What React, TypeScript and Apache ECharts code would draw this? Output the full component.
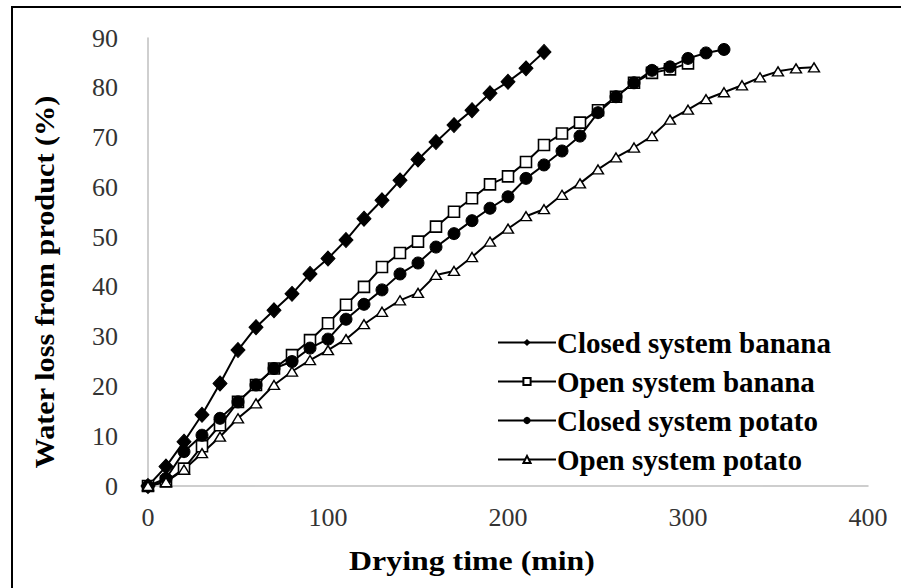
import React, { useEffect, useRef } from "react";
import * as echarts from "echarts";

// Drying time (min) shared by all series
const dryingTime = [0, 10, 20, 30, 40, 50, 60, 70, 80, 90, 100, 110, 120, 130, 140, 150, 160, 170, 180, 190, 200, 210, 220, 230, 240, 250, 260, 270, 280, 290, 300, 310, 320, 330, 340, 350, 360, 370];

const closedBanana = [0, 3.9, 8.9, 14.3, 20.6, 27.3, 31.9, 35.3, 38.6, 42.6, 45.7, 49.4, 53.7, 57.4, 61.4, 65.6, 69.1, 72.5, 75.5, 78.9, 81.2, 83.9, 87.2];
const openBanana = [0, 0.9, 3.5, 8, 12.2, 16.9, 20.3, 23.6, 26.3, 29.3, 32.7, 36.4, 40, 44, 46.8, 49.1, 52.1, 55.1, 57.8, 60.6, 62.2, 65.1, 68.5, 70.8, 73, 75.5, 78.2, 81, 83, 83.7, 84.9];
const closedPotato = [0, 1.5, 6.9, 10.2, 13.6, 16.9, 20.3, 23.6, 25, 27.7, 29.5, 33.5, 36.5, 39.4, 42.6, 44.8, 48, 50.7, 53.3, 55.8, 58.1, 61.8, 64.5, 67.3, 70.3, 75, 78.2, 81, 83.5, 84.2, 85.9, 87, 87.7];
const openPotato = [0, 0.8, 3.3, 6.6, 9.9, 13.6, 16.6, 20.3, 23, 25.3, 27.3, 29.5, 32.5, 35, 37.3, 38.8, 42.4, 43.2, 46, 49.1, 51.7, 54.2, 55.6, 58.5, 60.8, 63.6, 66, 68, 70.3, 73.6, 75.6, 77.7, 79.1, 80.5, 82.1, 83.3, 83.9, 84.1];

const seriesNames = ["Closed system banana", "Open system banana", "Closed system potato", "Open system potato"];
const xTicks = { min: 0, max: 400, interval: 100 };
const yTicks = { min: 0, max: 90, interval: 10 };
const xTitle = "Drying time (min)";
const yTitle = "Water loss from product (%)";

const pairs = (vals: number[]) => vals.map((v, i) => [dryingTime[i], v]);

const SERIF = "'Liberation Serif', 'DejaVu Serif', serif";

export default function App() {
  const ref = useRef<HTMLDivElement>(null);
  useEffect(() => {
    if (!ref.current) return;
    const chart = echarts.init(ref.current, undefined, { renderer: "svg" });
    const lineStyle = { color: "#000", width: 2 };
    const base = {
      type: "line" as const,
      lineStyle,
      z: 3,
    };
    chart.setOption({
      animation: false,
      backgroundColor: "#fff",
      grid: { left: 148, right: 33, top: 38, bottom: 102, containLabel: false },
      xAxis: {
        type: "value",
        ...xTicks,
        axisLine: { show: true, lineStyle: { color: "#bfbfbf", width: 1.5 } },
        axisTick: { show: false },
        splitLine: { show: false },
        axisLabel: { fontFamily: SERIF, fontSize: 26, color: "#333", margin: 18 },
      },
      yAxis: {
        type: "value",
        ...yTicks,
        axisLine: { show: true, lineStyle: { color: "#bfbfbf", width: 1.5 } },
        axisTick: { show: false },
        splitLine: { show: false },
        axisLabel: { fontFamily: SERIF, fontSize: 26, color: "#333", margin: 30 },
      },
      legend: {
        orient: "vertical",
        left: 497,
        top: 328,
        padding: 0,
        itemWidth: 58,
        itemHeight: 9,
        itemGap: 10,
        textStyle: { fontFamily: SERIF, fontSize: 29, fontWeight: "bold", color: "#000", lineHeight: 28, padding: [0, 0, 0, -4] },
        data: seriesNames,
      },
      graphic: [
        {
          type: "rect",
          shape: { x: 12, y: 7, width: 900, height: 590 },
          style: { fill: "none", stroke: "#000", lineWidth: 2 },
          silent: true,
          z: 10,
        },
        {
          type: "text",
          x: 472,
          y: 561,
          scaleX: 1.18,
          style: {
            text: xTitle,
            fontFamily: SERIF,
            fontSize: 27,
            fontWeight: "bold",
            fill: "#000",
            align: "center",
            verticalAlign: "middle",
          },
        },
        {
          type: "text",
          x: 45,
          y: 282,
          rotation: Math.PI / 2,
          scaleX: 1.12,
          style: {
            text: yTitle,
            fontFamily: SERIF,
            fontSize: 27,
            fontWeight: "bold",
            fill: "#000",
            align: "center",
            verticalAlign: "middle",
          },
        },
      ],
      series: [
        {
          ...base,
          name: seriesNames[0],
          data: pairs(closedBanana),
          symbol: "diamond",
          symbolSize: [14, 15],
          itemStyle: { color: "#000", borderColor: "#000" },
        },
        {
          ...base,
          name: seriesNames[1],
          data: pairs(openBanana),
          symbol: "rect",
          symbolSize: 11,
          itemStyle: { color: "#fff", borderColor: "#000", borderWidth: 1.6 },
        },
        {
          ...base,
          name: seriesNames[2],
          data: pairs(closedPotato),
          symbol: "circle",
          symbolSize: 12,
          itemStyle: { color: "#000", borderColor: "#000" },
        },
        {
          ...base,
          name: seriesNames[3],
          data: pairs(openPotato),
          symbol: "triangle",
          symbolSize: [11, 9],
          itemStyle: { color: "#fff", borderColor: "#000", borderWidth: 1.4 },
        },
      ],
    });
    return () => chart.dispose();
  }, []);
  return <div ref={ref} style={{ width: 901, height: 588, position: "absolute", left: 0, top: 0 }} />;
}
